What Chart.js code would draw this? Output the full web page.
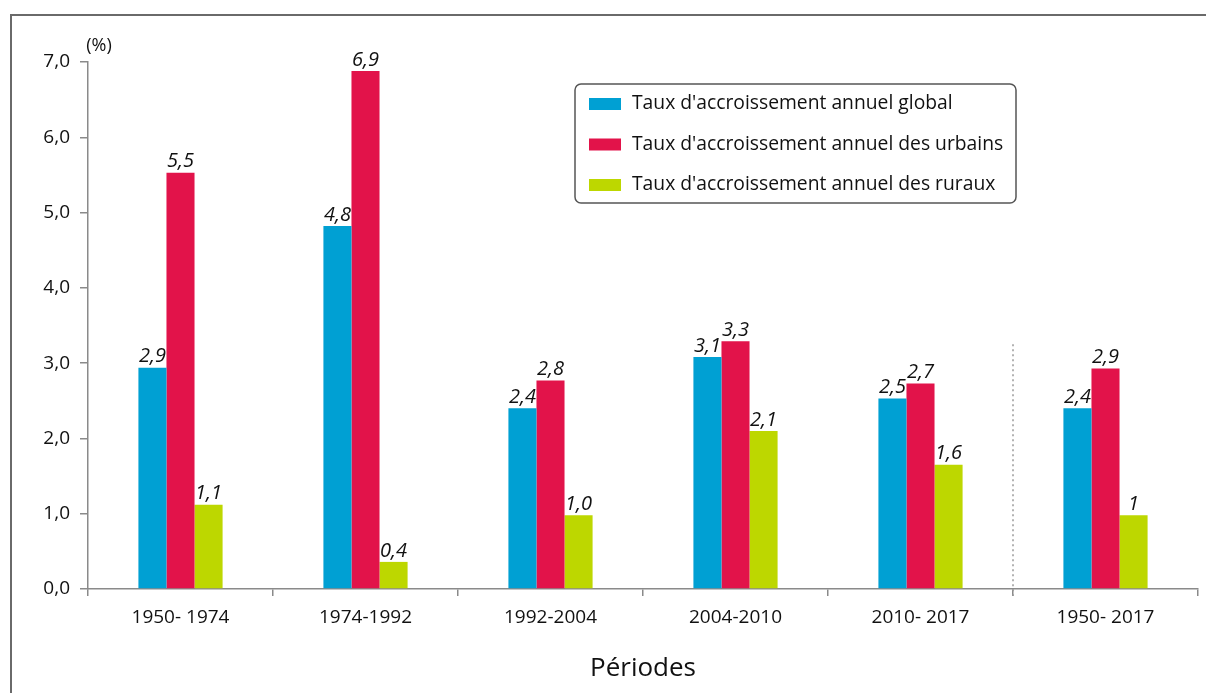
<!DOCTYPE html>
<html>
<head>
<meta charset="utf-8">
<script src="https://cdn.jsdelivr.net/npm/chart.js@4/dist/chart.umd.min.js"></script>
<style>
  html, body { margin: 0; padding: 0; background: #fff; }
  #wrap { width: 1206px; height: 693px; position: relative; }
</style>
</head>
<body>
<div id="wrap"><canvas id="graphique"></canvas></div>
<script>
var periodes = ["1950- 1974", "1974-1992", "1992-2004", "2004-2010", "2010- 2017", "1950- 2017"];
var noms_series = [
    "Taux d'accroissement annuel global",
    "Taux d'accroissement annuel des urbains",
    "Taux d'accroissement annuel des ruraux"
];
var taux_global = [2.94, 4.82, 2.40, 3.08, 2.53, 2.40];
var taux_urbains = [5.53, 6.88, 2.77, 3.29, 2.73, 2.93];
var taux_ruraux = [1.12, 0.36, 0.98, 2.10, 1.65, 0.98];
var etiquettes_global = ["2,9", "4,8", "2,4", "3,1", "2,5", "2,4"];
var etiquettes_urbains = ["5,5", "6,9", "2,8", "3,3", "2,7", "2,9"];
var etiquettes_ruraux = ["1,1", "0,4", "1,0", "2,1", "1,6", "1"];
var graduations_y = [0, 1, 2, 3, 4, 5, 6, 7];

var couleurs = ["#00a0d3", "#e2134a", "#bdd700"];
var police = "'Open Sans', 'Noto Sans', sans-serif";

var etiquettes = [etiquettes_global, etiquettes_urbains, etiquettes_ruraux];

// cadre, legende, etiquettes de valeurs, ligne pointillee
var decor = {
    id: "decor",
    beforeDraw: function (chart) {
        var ctx = chart.ctx;
        ctx.save();
        ctx.strokeStyle = "#6a6a6a";
        ctx.lineWidth = 2;
        ctx.strokeRect(11, 15, 1210, 700);
        ctx.restore();
    },
    afterDatasetsDraw: function (chart) {
        var ctx = chart.ctx;
        var x = chart.scales.x, y = chart.scales.y;
        ctx.save();

        // pointilles entre 2010-2017 et 1950-2017
        var xp = (x.getPixelForValue(4) + x.getPixelForValue(5)) / 2;
        ctx.strokeStyle = "#999";
        ctx.lineWidth = 1.5;
        ctx.setLineDash([2, 3]);
        ctx.beginPath();
        ctx.moveTo(xp, y.getPixelForValue(3.25));
        ctx.lineTo(xp, y.bottom + 7);
        ctx.stroke();
        ctx.setLineDash([]);

        // valeurs au-dessus des barres
        ctx.font = "italic 20px " + police;
        ctx.fillStyle = "#111";
        ctx.textAlign = "center";
        ctx.textBaseline = "bottom";
        chart.data.datasets.forEach(function (ds, i) {
            var meta = chart.getDatasetMeta(i);
            meta.data.forEach(function (bar, j) {
                ctx.fillText(etiquettes[i][j], bar.x, bar.y - 1);
            });
        });

        // (%)
        ctx.font = "18px " + police;
        ctx.textBaseline = "middle";
        ctx.fillText("(%)", y.right + 11, 46);

        // legende
        ctx.strokeStyle = "#555";
        ctx.lineWidth = 1.5;
        ctx.beginPath();
        ctx.roundRect(575, 84, 441, 119, 6);
        ctx.stroke();
        ctx.font = "19.3px " + police;
        ctx.textAlign = "left";
        chart.data.datasets.forEach(function (ds, i) {
            var ly = 104 + i * 40.5;
            ctx.fillStyle = ds.backgroundColor;
            ctx.fillRect(589, ly - 6, 32, 12);
            ctx.fillStyle = "#111";
            ctx.fillText(ds.label, 632, ly);
        });
        ctx.restore();
    }
};

var ctx = document.getElementById("graphique").getContext("2d");
var graphique = new Chart(ctx, {
    type: "bar",
    data: {
        labels: periodes,
        datasets: [
            { label: noms_series[0], data: taux_global, backgroundColor: couleurs[0] },
            { label: noms_series[1], data: taux_urbains, backgroundColor: couleurs[1] },
            { label: noms_series[2], data: taux_ruraux, backgroundColor: couleurs[2] }
        ]
    },
    options: {
        responsive: true,
        maintainAspectRatio: false,
        animation: false,
        categoryPercentage: 0.455,
        barPercentage: 1.0,
        layout: { padding: { left: 0, right: 8, top: 62, bottom: 0 } },
        plugins: {
            legend: { display: false },
            tooltip: { enabled: false }
        },
        scales: {
            x: {
                afterFit: function (scale) { scale.height = 104; },
                grid: {
                    offset: true,
                    drawOnChartArea: false,
                    drawTicks: true,
                    tickLength: 7,
                    color: "#8a8a8a",
                    lineWidth: 1.5
                },
                border: { color: "#8a8a8a", width: 1.5 },
                ticks: {
                    color: "#111",
                    padding: 10,
                    font: { family: police, size: 19 }
                },
                title: {
                    display: true,
                    text: "Périodes",
                    color: "#111",
                    font: { family: police, size: 26 },
                    padding: { top: 0, bottom: 9 }
                }
            },
            y: {
                min: 0,
                max: 7,
                afterFit: function (scale) { scale.width = 88; },
                afterBuildTicks: function (scale) {
                    scale.ticks = graduations_y.map(function (v) { return { value: v }; });
                },
                grid: {
                    drawOnChartArea: false,
                    drawTicks: true,
                    tickLength: 8,
                    color: "#8a8a8a",
                    lineWidth: 1.5
                },
                border: { color: "#8a8a8a", width: 1.5 },
                ticks: {
                    color: "#111",
                    padding: 10,
                    font: { family: police, size: 19 },
                    callback: function (v) { return v.toFixed(1).replace(".", ","); }
                }
            }
        }
    },
    plugins: [decor]
});
</script>
</body>
</html>
